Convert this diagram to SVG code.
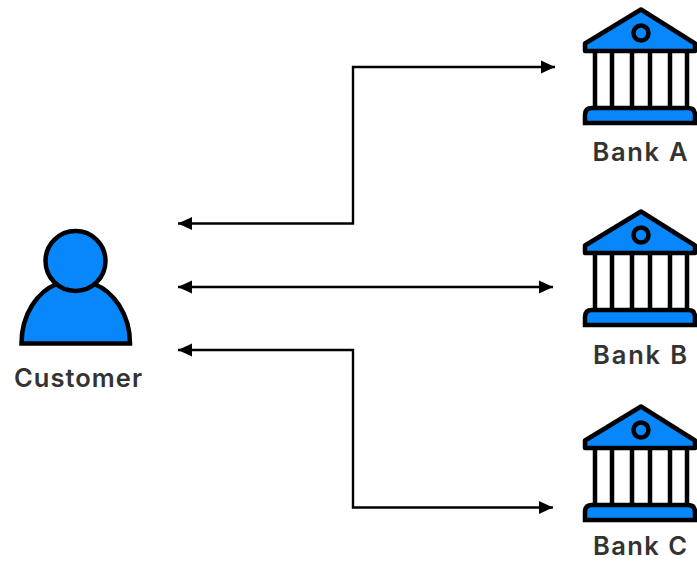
<svg xmlns="http://www.w3.org/2000/svg" width="697" height="562" viewBox="0 0 697 562">
<defs>
<marker id="ah" viewBox="0 0 14 14" refX="14" refY="7" markerWidth="14" markerHeight="14" markerUnits="userSpaceOnUse" orient="auto-start-reverse"><path d="M0 0.500L14 7L0 13.500Z" fill="#000"/></marker>
<g id="bank">
<path class="s" d="M641 9.500L585 43.500V51H695V43.500Z" stroke-linejoin="round"/>
<circle class="s" cx="641" cy="33" r="7.500"/>
<path class="l" d="M595 51V108M612 51V108M632 51V108M650 51V108M670 51V108M687 51V108"/>
<path class="s" d="M592 108H688Q695 108 695 115V123H585V115Q585 108 592 108Z"/>
</g>
</defs>
<style>
.s{fill:#0787fb;stroke:#000;stroke-width:4.500}
.l{fill:none;stroke:#000;stroke-width:4.500}
.c{fill:none;stroke:#000;stroke-width:2.400;marker-start:url(#ah);marker-end:url(#ah)}
text{font-family:"Inter","Liberation Sans",sans-serif;font-size:25.500px;font-weight:600;fill:#333;text-anchor:middle}
</style>
<rect width="697" height="562" fill="#fff"/>
<g id="connectors">
<path class="c" d="M178 223.500H353V67H555"/>
<path class="c" d="M178 287H553"/>
<path class="c" d="M553 507.500H353V350H178"/>
</g>
<g id="customer">
<path class="s" d="M21.500 343.500C21.500 314 38 291 57 284H94C113 291 130 314 130 343.500Z"/>
<circle class="s" cx="75.500" cy="261" r="30"/>
<text x="78" y="387" textLength="128" lengthAdjust="spacing">Customer</text>
</g>
<g id="bank-a"><use href="#bank"/><text x="640" y="161" textLength="95" lengthAdjust="spacing">Bank A</text></g>
<g id="bank-b"><use href="#bank" y="202"/><text x="640" y="364" textLength="94" lengthAdjust="spacing">Bank B</text></g>
<g id="bank-c"><use href="#bank" y="397"/><text x="640" y="555" textLength="94" lengthAdjust="spacing">Bank C</text></g>
</svg>
